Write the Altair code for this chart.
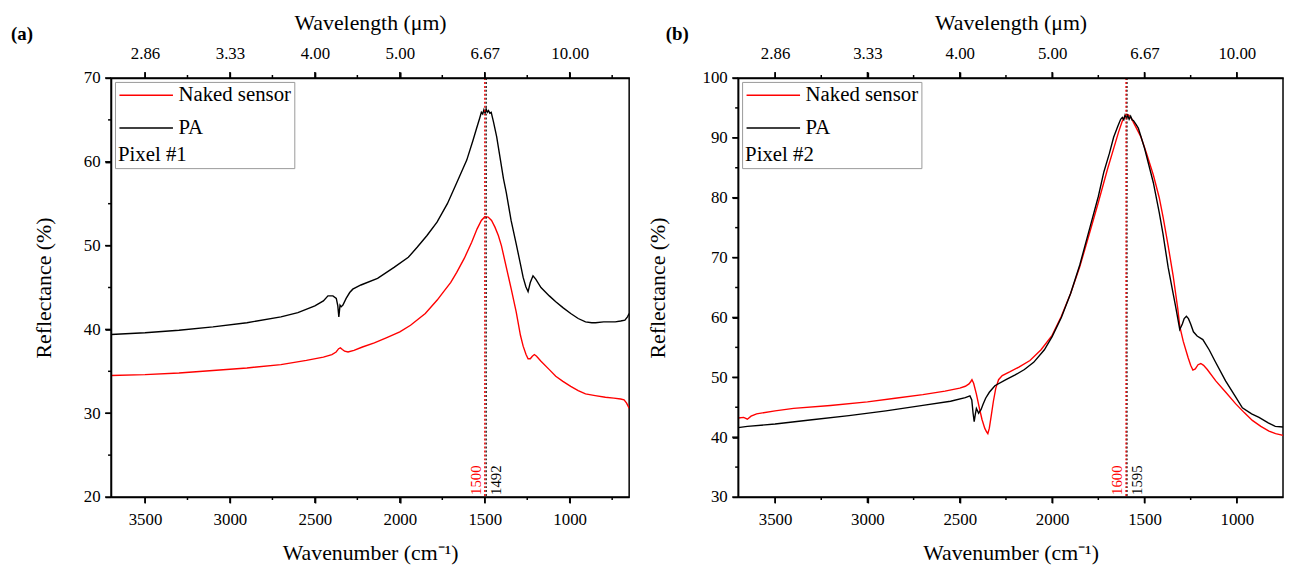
import altair as alt
import pandas as pd

FONT = "Liberation Serif"
SERIES = ["Naked sensor", "PA"]
COLORS = ["#ff0000", "#000000"]

# ---------------- Panel (a) ----------------
a_naked_wn = [3700, 3500, 3300, 3100, 2900, 2700, 2550, 2450, 2400, 2375,
              2360, 2350, 2338, 2325, 2305, 2270, 2220, 2150, 2080, 2000,
              1937, 1850, 1780, 1742, 1700, 1665, 1620, 1577, 1545, 1520,
              1500, 1480, 1460, 1440, 1420, 1402, 1373, 1344, 1315, 1290,
              1274, 1257, 1245, 1232, 1220, 1208, 1195, 1169, 1120, 1082,
              1040, 994, 950, 907, 850, 790, 740, 700, 680, 665, 650]
a_naked_r = [34.5, 34.6, 34.8, 35.1, 35.4, 35.8, 36.3, 36.7, 37.0, 37.3,
             37.7, 37.8, 37.6, 37.4, 37.3, 37.5, 37.9, 38.4, 39.0, 39.7,
             40.5, 41.9, 43.5, 44.5, 45.6, 46.8, 48.5, 50.4, 52.0, 53.0,
             53.45, 53.4, 53.0, 52.2, 51.2, 50.0, 47.4, 44.8, 42.1, 39.3,
             38.0, 37.0, 36.5, 36.5, 36.8, 37.0, 36.8, 36.2, 35.2, 34.4,
             33.8, 33.2, 32.7, 32.3, 32.1, 31.9, 31.8, 31.7, 31.6, 31.2, 30.6]
a_pa_wn = [3700, 3500, 3300, 3100, 2900, 2700, 2600, 2500, 2450, 2423,
           2394, 2374, 2365, 2359, 2352, 2345, 2335, 2316, 2295, 2277,
           2229, 2131, 2034, 1950, 1898, 1840, 1781, 1720, 1665, 1606,
           1570, 1548, 1530, 1520, 1512, 1505, 1498, 1492, 1485, 1478,
           1470, 1462, 1455, 1449, 1430, 1414, 1390, 1373, 1345, 1315,
           1290, 1274, 1258, 1245, 1232, 1216, 1200, 1169, 1120, 1082,
           1040, 994, 950, 907, 870, 848, 800, 760, 732, 700,
           675, 660, 650]
a_pa_r = [39.4, 39.6, 39.9, 40.3, 40.8, 41.5, 42.0, 42.8, 43.4, 44.0,
          44.0, 43.7, 42.8, 41.5, 42.9, 42.7, 42.9, 43.7, 44.4, 44.8,
          45.3, 46.1, 47.4, 48.6, 49.8, 51.2, 52.8, 55.0, 57.5, 60.2,
          62.5, 64.0, 65.2, 65.9, 65.7, 66.2, 65.8, 66.3, 65.9, 66.1,
          65.8, 65.9, 65.3, 64.8, 63.0, 61.0, 58.0, 56.3, 53.0, 50.2,
          47.8, 46.2, 45.1, 44.5, 45.6, 46.4, 46.0, 45.0, 44.0, 43.3,
          42.6, 41.9, 41.3, 40.9, 40.8, 40.8, 40.9, 40.9, 40.9, 41.0,
          41.1, 41.5, 41.9]
a_peak_wn = [1500, 1492]
a_peak_text = ["1500", "1492"]

# ---------------- Panel (b) ----------------
b_naked_wn = [3700, 3670, 3650, 3630, 3600, 3500, 3400, 3200, 3000, 2850,
              2700, 2580, 2500, 2470, 2450, 2440, 2434, 2425, 2410, 2395,
              2380, 2365, 2355, 2348, 2340, 2330, 2318, 2305, 2290, 2270,
              2230, 2180, 2120, 2060, 2000, 1950, 1900, 1850, 1800, 1750,
              1700, 1667, 1640, 1620, 1605, 1595, 1585, 1570, 1550, 1520,
              1490, 1452, 1420, 1399, 1372, 1345, 1320, 1309, 1290, 1264,
              1250, 1238, 1225, 1210, 1195, 1180, 1160, 1114, 1060, 1007,
              960, 916, 870, 826, 790, 750]
b_naked_r = [43.2, 43.3, 43.0, 43.5, 43.9, 44.4, 44.8, 45.3, 45.9, 46.5,
             47.1, 47.7, 48.2, 48.5, 48.9, 49.3, 49.6, 49.0, 47.2, 45.0,
             43.0, 41.5, 40.9, 40.6, 41.5, 43.5, 46.0, 48.2, 49.6, 50.3,
             50.9, 51.7, 52.8, 54.6, 57.0, 60.2, 64.0, 68.5, 73.8, 79.2,
             84.8, 88.2, 91.0, 92.8, 93.7, 93.9, 93.8, 93.2, 92.0, 90.2,
             87.5, 83.8, 80.0, 76.7, 72.0, 67.0, 61.5, 58.5, 56.0, 53.3,
             52.0, 51.2, 51.4, 52.1, 52.3, 52.0, 51.3, 49.4, 47.5, 45.6,
             44.1, 42.8, 41.8, 41.0, 40.6, 40.3]
b_pa_wn = [3700, 3650, 3500, 3300, 3100, 2900, 2700, 2550, 2470, 2445,
           2435, 2428, 2422, 2416, 2410, 2404, 2398, 2392, 2385, 2375,
           2360, 2340, 2310, 2250, 2200, 2150, 2100, 2042, 2000, 1950,
           1900, 1850, 1800, 1750, 1720, 1690, 1667, 1645, 1629, 1620,
           1612, 1605, 1598, 1590, 1583, 1575, 1567, 1560, 1545, 1533,
           1500, 1452, 1420, 1400, 1372, 1350, 1330, 1309, 1295, 1285,
           1273, 1262, 1250, 1235, 1215, 1184, 1150, 1120, 1061, 1010,
           970, 920, 880, 830, 792, 750]
b_pa_r = [41.6, 41.8, 42.2, 42.9, 43.6, 44.4, 45.3, 46.0, 46.6, 46.9,
          46.2, 44.0, 42.6, 43.8, 44.8, 44.4, 44.0, 44.3, 44.6, 45.4,
          46.5, 47.5, 48.6, 49.6, 50.4, 51.3, 52.5, 54.6, 56.8, 60.0,
          64.0, 68.8, 74.5, 80.2, 84.3, 87.4, 90.1, 91.9, 93.1, 93.4,
          93.0, 93.8, 93.3, 93.7, 93.1, 93.6, 93.0, 92.9, 92.2, 91.6,
          88.3, 82.5, 77.5, 74.0, 68.4, 64.8, 61.6, 58.0, 58.9, 59.8,
          60.2, 59.8, 58.9, 57.6, 56.9, 56.3, 54.6, 52.8, 49.4, 46.9,
          44.9, 43.9, 43.3, 42.4, 41.8, 41.7]
b_peak_wn = [1600, 1595]
b_peak_text = ["1600", "1595"]

# ---------------- Axis ticks ----------------
a_x_major = [3500, 3000, 2500, 2000, 1500, 1000]
a_x_minor = [3250, 2750, 2250, 1750, 1250, 750]
b_x_major = [3500, 3000, 2500, 2000, 1500, 1000]
b_x_minor = [3250, 2750, 2250, 1750, 1250]
a_y_major = [20, 30, 40, 50, 60, 70]
a_y_minor = [25, 35, 45, 55, 65]
b_y_major = [30, 40, 50, 60, 70, 80, 90, 100]
b_y_minor = [35, 45, 55, 65, 75, 85, 95]

PLOT_H = 423
MAJOR = 6
MINOR = 3


def tick_layers(xs, ys, x_major, x_minor, y_major, y_minor):
    """Outward tick strokes, placed by the panel's own scales."""
    out = []
    for vals, length in ((x_major, MAJOR), (x_minor, MINOR)):
        d = pd.DataFrame({"wn": vals})
        base = alt.Chart(d).mark_rule(color="black", strokeWidth=1.5)
        out.append(base.encode(x=alt.X("wn:Q", scale=xs, axis=None),
                               y=alt.value(PLOT_H), y2=alt.value(PLOT_H + length)))
        out.append(base.encode(x=alt.X("wn:Q", scale=xs, axis=None),
                               y=alt.value(0), y2=alt.value(-length)))
    for vals, length in ((y_major, MAJOR), (y_minor, MINOR)):
        d = pd.DataFrame({"r": vals})
        out.append(alt.Chart(d).mark_rule(color="black", strokeWidth=1.5).encode(
            y=alt.Y("r:Q", scale=ys, axis=None),
            x=alt.value(0), x2=alt.value(-length)))
    return out


def panel(tag, tag_dx, pixel, nk_wn, nk_r, pa_wn, pa_r, peak_wn, peak_text,
          xdom, ydom, x_major, x_minor, y_major, y_minor, width, ytitle_pad):
    curves = pd.DataFrame({
        "wn": nk_wn + pa_wn,
        "r": nk_r + pa_r,
        "series": [SERIES[0]] * len(nk_wn) + [SERIES[1]] * len(pa_wn),
    })
    peaks = pd.DataFrame({
        "wn": peak_wn,
        "series": SERIES,
        "label": peak_text,
        "ybase": [ydom[0], ydom[0]],
    })

    xs = alt.Scale(domain=xdom, nice=False, zero=False)
    ys = alt.Scale(domain=ydom, nice=False, zero=False)
    cs = alt.Scale(domain=SERIES, range=COLORS)

    bottom_axis = alt.Axis(
        orient="bottom", values=x_major, format="d", tickSize=MAJOR,
        ticks=True, zindex=1,
        title="Wavenumber (cm⁻¹)", labelPadding=9, titlePadding=15)
    top_axis = alt.Axis(
        orient="top", values=x_major,
        labelExpr="format(10000 / datum.value, '.2f')",
        tickSize=MAJOR, ticks=True, zindex=1,
        title="Wavelength (μm)", labelPadding=10, titlePadding=10)
    left_axis = alt.Axis(
        orient="left", values=y_major, format="d", tickSize=MAJOR,
        ticks=True, zindex=1,
        title="Reflectance (%)", labelPadding=5, titlePadding=ytitle_pad)

    legend = alt.Legend(
        title=pixel, orient="top-left", offset=4,
        titleOrient="bottom", titleAnchor="start",
        titleFont=FONT, titleFontSize=21, titleFontWeight="normal",
        titleColor="black", titlePadding=6,
        labelFont=FONT, labelFontSize=21, labelColor="black",
        labelOffset=40, labelLimit=400,
        symbolType="M-1,0H5", symbolSize=324, symbolStrokeWidth=1.5,
        rowPadding=11, padding=3,
        strokeColor="#9a9a9a", fillColor="white")

    lines = alt.Chart(curves).mark_line(strokeWidth=1.4, clip=True).encode(
        x=alt.X("wn:Q", scale=xs, axis=bottom_axis),
        y=alt.Y("r:Q", scale=ys, axis=left_axis),
        color=alt.Color("series:N", scale=cs, legend=legend),
    )
    # black marker line drawn first, red one over it
    rules = alt.Chart(peaks).mark_rule(strokeDash=[2, 2], strokeWidth=1.3).encode(
        x=alt.X("wn:Q", scale=xs, axis=top_axis),
        color=alt.Color("series:N", scale=cs, legend=None),
        order=alt.Order("series:N", sort="descending"),
    )
    lab_left = alt.Chart(peaks).transform_filter(
        alt.datum.series == SERIES[0]
    ).mark_text(angle=270, align="left", baseline="bottom", dx=2, dy=-1,
                fontSize=15, font=FONT).encode(
        x=alt.X("wn:Q", scale=xs, axis=None),
        y=alt.Y("ybase:Q", scale=ys, axis=None),
        text="label:N",
        color=alt.Color("series:N", scale=cs, legend=None),
    )
    lab_right = alt.Chart(peaks).transform_filter(
        alt.datum.series == SERIES[1]
    ).mark_text(angle=270, align="left", baseline="top", dx=2, dy=3,
                fontSize=15, font=FONT).encode(
        x=alt.X("wn:Q", scale=xs, axis=None),
        y=alt.Y("ybase:Q", scale=ys, axis=None),
        text="label:N",
        color=alt.Color("series:N", scale=cs, legend=None),
    )
    tag_layer = alt.Chart(pd.DataFrame({"t": [tag]})).mark_text(
        align="left", baseline="middle", fontSize=19, fontWeight="bold",
        font=FONT, color="black").encode(
        x=alt.value(tag_dx), y=alt.value(-44), text="t:N")

    layers = [lines, rules, lab_left, lab_right] + tick_layers(
        xs, ys, x_major, x_minor, y_major, y_minor) + [tag_layer]
    return alt.layer(*layers).resolve_axis(
        x="independent", y="independent").properties(width=width, height=PLOT_H)


pa = panel("(a)", -101, "Pixel #1", a_naked_wn, a_naked_r, a_pa_wn, a_pa_r,
           a_peak_wn, a_peak_text, [3700, 650], [20, 70],
           a_x_major, a_x_minor, a_y_major, a_y_minor, 523, 28)
pb = panel("(b)", -73, "Pixel #2", b_naked_wn, b_naked_r, b_pa_wn, b_pa_r,
           b_peak_wn, b_peak_text, [3700, 750], [30, 100],
           b_x_major, b_x_minor, b_y_major, b_y_minor, 550, 33)

chart = alt.hconcat(pa, pb, spacing=15).resolve_legend(
    color="independent"
).properties(
    padding={"left": 2, "top": 0, "right": 0, "bottom": 0}
).configure_view(
    stroke="black", strokeWidth=1.5
).configure_axis(
    domainColor="black", domainWidth=1.5, tickColor="black", tickWidth=1.5,
    labelColor="black", titleColor="black", labelFont=FONT, titleFont=FONT,
    labelFontSize=17, titleFontSize=22, titleFontWeight="normal",
    grid=False, labelFlush=False, labelOverlap=False
)

chart.save("out.html", embed_options={"renderer": "svg", "actions": False})
